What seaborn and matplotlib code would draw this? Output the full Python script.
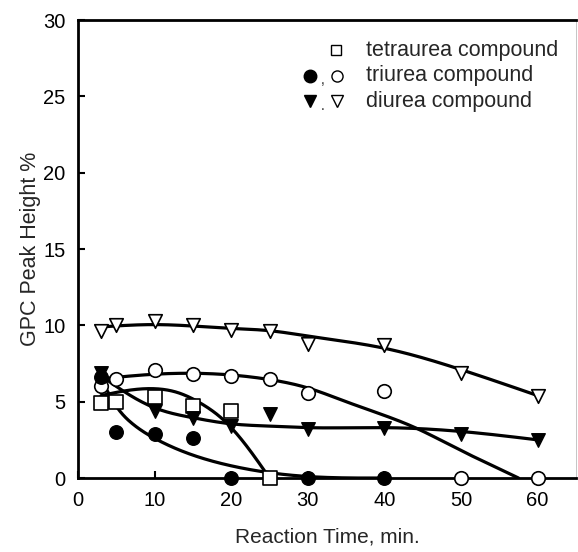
import numpy as np
import pandas as pd
import matplotlib
matplotlib.use("Agg")
import matplotlib.pyplot as plt
import seaborn as sns

# ---------------- data ----------------
tetra_x = [3, 5, 10, 15, 20, 25]
tetra_y = [4.9, 5.0, 5.3, 4.7, 4.4, 0.0]

tri_closed_x = [3, 5, 10, 15, 20, 30, 40]
tri_closed_y = [6.6, 3.0, 2.9, 2.6, 0.0, 0.0, 0.0]

tri_open_x = [3, 5, 10, 15, 20, 25, 30, 40, 50, 60]
tri_open_y = [6.0, 6.5, 7.1, 6.8, 6.7, 6.5, 5.6, 5.7, 0.0, 0.0]

di_closed_x = [3, 10, 15, 20, 25, 30, 40, 50, 60]
di_closed_y = [6.9, 4.4, 3.9, 3.4, 4.2, 3.2, 3.3, 2.9, 2.5]

di_open_x = [3, 5, 10, 15, 20, 25, 30, 40, 50, 60]
di_open_y = [9.6, 10.0, 10.3, 10.0, 9.7, 9.6, 8.8, 8.7, 6.9, 5.4]

# fitted curves drawn in the reference (knots)
fit_tetra_x = [3, 6, 10, 13, 16, 19, 22, 25]
fit_tetra_y = [5.4, 5.7, 5.85, 5.6, 4.9, 3.8, 2.1, 0.0]

fit_tri_closed_x = [3, 5, 7, 10, 15, 20, 25, 30, 40]
fit_tri_closed_y = [6.5, 4.7, 3.6, 2.6, 1.5, 0.8, 0.35, 0.1, 0.0]

fit_tri_open_x = [3, 10, 20, 25, 30, 35, 40, 44, 50, 55, 57.5]
fit_tri_open_y = [6.5, 6.8, 6.75, 6.45, 5.9, 5.0, 4.1, 3.3, 1.8, 0.6, 0.0]

fit_di_closed_x = [3, 5, 10, 15, 20, 25, 30, 40, 50, 60]
fit_di_closed_y = [6.7, 6.0, 4.6, 3.95, 3.55, 3.4, 3.3, 3.3, 3.05, 2.5]

fit_di_open_x = [3, 10, 20, 25, 30, 40, 50, 60]
fit_di_open_y = [9.9, 10.05, 9.8, 9.65, 9.3, 8.5, 7.1, 5.4]

legend_labels = ["tetraurea compound", "triurea compound", "diurea compound"]
x_label = "Reaction Time, min."
y_label = "GPC Peak Height %"
x_ticks = [0, 10, 20, 30, 40, 50, 60]
y_ticks = [0, 5, 10, 15, 20, 25, 30]


def natural_spline(xk, yk, n=300):
    xk = np.asarray(xk, float)
    yk = np.asarray(yk, float)
    m = len(xk)
    h = np.diff(xk)
    A = np.zeros((m, m))
    b = np.zeros(m)
    A[0, 0] = 1
    A[-1, -1] = 1
    for i in range(1, m - 1):
        A[i, i - 1] = h[i - 1]
        A[i, i] = 2 * (h[i - 1] + h[i])
        A[i, i + 1] = h[i]
        b[i] = 6 * ((yk[i + 1] - yk[i]) / h[i] - (yk[i] - yk[i - 1]) / h[i - 1])
    M = np.linalg.solve(A, b)
    xs = np.linspace(xk[0], xk[-1], n)
    idx = np.clip(np.searchsorted(xk, xs) - 1, 0, m - 2)
    x0, x1 = xk[idx], xk[idx + 1]
    hh = x1 - x0
    t0 = x1 - xs
    t1 = xs - x0
    ys = (M[idx] * t0 ** 3 / (6 * hh) + M[idx + 1] * t1 ** 3 / (6 * hh)
          + (yk[idx] / hh - M[idx] * hh / 6) * t0
          + (yk[idx + 1] / hh - M[idx + 1] * hh / 6) * t1)
    return xs, ys


sns.set_theme(style="ticks")
plt.rcParams["font.family"] = ["Liberation Sans", "DejaVu Sans"]

fig = plt.figure(figsize=(5.78, 5.52), dpi=100)
ax = fig.add_axes([0.135, 0.134, 0.8615, 0.8297])

# curves
for fx, fy in [(fit_tetra_x, fit_tetra_y), (fit_tri_closed_x, fit_tri_closed_y),
               (fit_tri_open_x, fit_tri_open_y), (fit_di_closed_x, fit_di_closed_y),
               (fit_di_open_x, fit_di_open_y)]:
    xs, ys = natural_spline(fx, fy)
    ys = np.clip(ys, 0, None)
    sns.lineplot(x=xs, y=ys, ax=ax, color="black", linewidth=2.3, sort=False,
                 estimator=None, zorder=3)

ms = 95
common = dict(ax=ax, legend=False, zorder=5, clip_on=False, s=ms)
sns.scatterplot(x=tetra_x, y=tetra_y, marker="s", facecolor="white",
                edgecolor="black", linewidth=1.2, **common)
sns.scatterplot(x=tri_open_x, y=tri_open_y, marker="o", facecolor="white",
                edgecolor="black", linewidth=1.2, **common)
sns.scatterplot(x=di_open_x, y=di_open_y, marker="v", facecolor="white",
                edgecolor="black", linewidth=1.2, **common)
sns.scatterplot(x=tri_closed_x, y=tri_closed_y, marker="o", color="black",
                edgecolor="black", linewidth=1.0, **common)
sns.scatterplot(x=di_closed_x, y=di_closed_y, marker="v", color="black",
                edgecolor="black", linewidth=1.0, **common)

ax.set_xlim(0, 65)
ax.set_ylim(0, 30)
ax.set_xticks(x_ticks)
ax.set_yticks(y_ticks)
ax.tick_params(direction="in", length=5, width=1.5, labelsize=14.5, pad=9,
               colors="black")
ax.set_xlabel(x_label, fontsize=15)
ax.set_ylabel(y_label, fontsize=15.5)
ax.xaxis.set_label_coords(0.5, -0.108)
ax.yaxis.set_label_coords(-0.074, 0.5)
for s in ["left", "bottom", "top"]:
    ax.spines[s].set_linewidth(2.0)
    ax.spines[s].set_color("black")
ax.spines["right"].set_visible(True)
ax.spines["right"].set_linewidth(0.6)
ax.spines["right"].set_color("#bbbbbb")

# legend (manual, as in the reference)
tr = ax.transAxes
rows = [0.934, 0.878, 0.823]
lkw = dict(transform=tr, clip_on=False, zorder=6)
ax.plot([0.518], [rows[0]], marker="s", markersize=7.5, mfc="white", mec="black",
        mew=1.0, **lkw)
ax.plot([0.466], [rows[1]], marker="o", markersize=9, mfc="black", mec="black", **lkw)
ax.plot([0.520], [rows[1]], marker="o", markersize=8, mfc="white", mec="black",
        mew=1.0, **lkw)
ax.text(0.491, rows[1] - 0.008, ",", transform=tr, fontsize=10, ha="center", va="center")
ax.plot([0.466], [rows[2]], marker="v", markersize=9, mfc="black", mec="black", **lkw)
ax.plot([0.520], [rows[2]], marker="v", markersize=8, mfc="white", mec="black",
        mew=1.0, **lkw)
ax.text(0.492, rows[2] - 0.010, ".", transform=tr, fontsize=10, ha="center", va="center")
for r, lab in zip(rows, legend_labels):
    ax.text(0.579, r, lab, transform=tr, fontsize=15.5, ha="left", va="center")

fig.savefig("out.png", dpi=100)
